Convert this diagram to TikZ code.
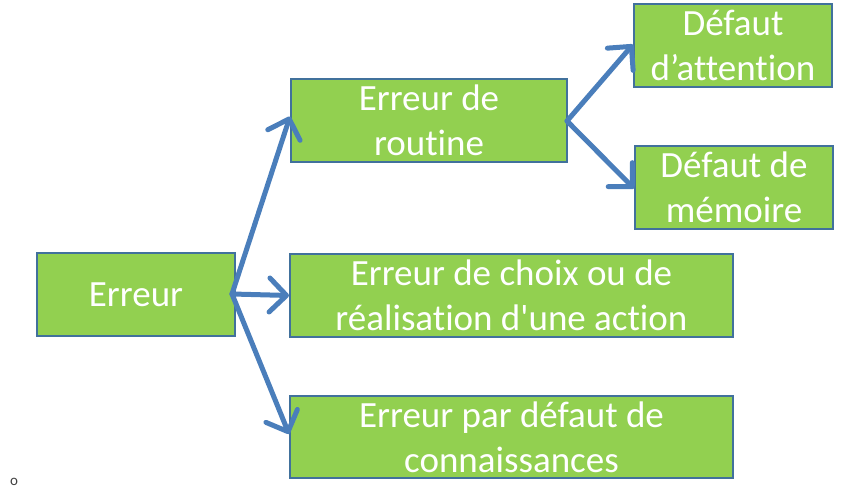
\documentclass[tikz,border=0pt]{standalone}
\usepackage{fontspec}
\newfontfamily\boxfont{Carlito}[RawFeature={-liga}]
\usetikzlibrary{arrows.meta}
\definecolor{boxfill}{HTML}{92D050}
\definecolor{boxline}{HTML}{41719C}
\definecolor{arrowc}{HTML}{4A7EBB}
\begin{document}
\begin{tikzpicture}[x=1pt,y=-1pt,
  box/.style={draw=boxline,line width=2pt,fill=boxfill,text=white,inner sep=0pt,
    font=\boxfont\fontsize{37}{45}\selectfont,align=center},
  conn/.style={draw=arrowc,line width=5pt,line cap=round,
    -{Straight Barb[length=17pt,width=34pt,line cap=round,line join=round]}}]
\useasboundingbox (0,0) rectangle (841,490);
\node[box,minimum width=198pt,minimum height=83pt] (err) at (136,294.5) {Erreur};
\node[box,minimum width=276pt,minimum height=83pt] (rout) at (429,120.5) {Erreur de\\routine};
\node[box,minimum width=443pt,minimum height=83pt] (choix) at (511.5,295.5) {Erreur de choix ou de\\réalisation d'une action};
\node[box,minimum width=443pt,minimum height=82pt] (conn) at (511.5,437) {Erreur par défaut de\\connaissances};
\node[box,minimum width=198pt,minimum height=83pt] (att) at (733,45.5) {Défaut\\d’attention};
\node[box,minimum width=198pt,minimum height=83pt] (mem) at (734,187.5) {Défaut de\\mémoire};
\coordinate (errR) at (232,294);
\coordinate (routR) at (567,121);
\draw[conn] (errR) -- ([yshift=4pt]rout.west);
\draw[conn] (errR) -- (choix.west);
\draw[conn] (errR) -- ([yshift=3pt]conn.west);
\draw[conn] (routR) -- ([yshift=1pt]att.west);
\draw[conn] (routR) -- ([yshift=-1pt]mem.west);
\node[font=\boxfont\fontsize{15}{15}\selectfont,text=black!75,inner sep=0pt] (mark) at (14,482) {o};
\end{tikzpicture}
\end{document}
